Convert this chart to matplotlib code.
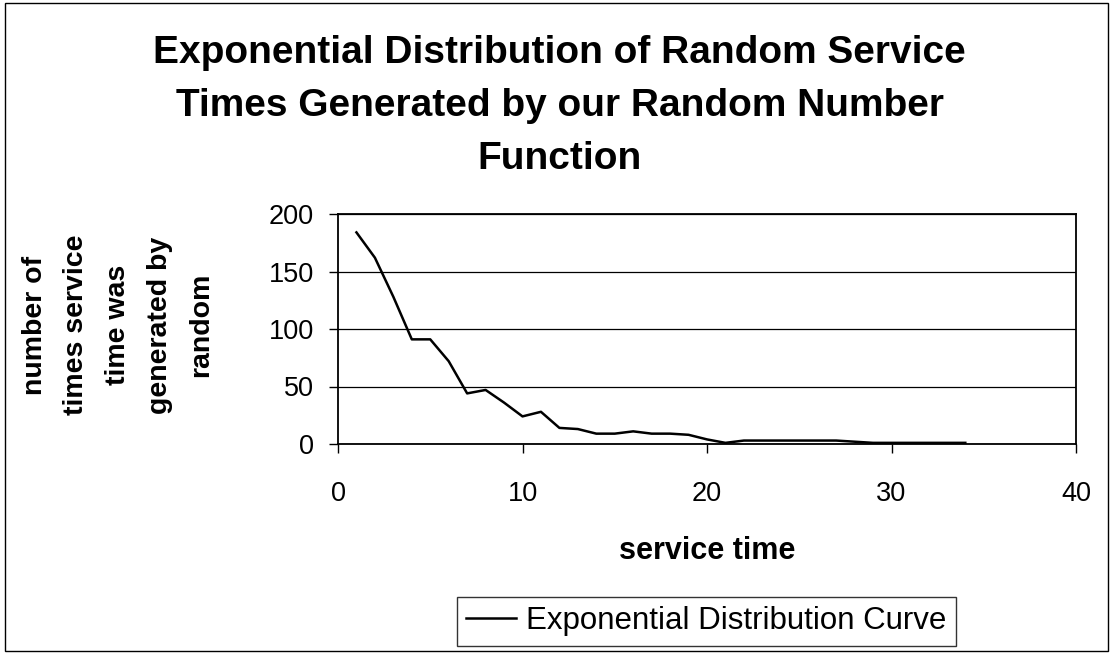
import matplotlib
matplotlib.use("Agg")
import matplotlib.pyplot as plt
from matplotlib.patches import Rectangle

plt.rcParams['font.family'] = ['Liberation Sans', 'DejaVu Sans']

# service time (x) and how many times it was generated (y)
service_time = list(range(1, 35))
counts = [184, 162, 128, 91, 91, 72, 44, 47, 36, 24,
          28, 14, 13, 9, 9, 11, 9, 9, 8, 4,
          1, 3, 3, 3, 3, 3, 3, 2, 1, 1,
          1, 1, 1, 1]

x_ticks = [0, 10, 20, 30, 40]
y_ticks = [0, 50, 100, 150, 200]

title = "Exponential Distribution of Random Service\nTimes Generated by our Random Number\nFunction"
ylabel = "number of\ntimes service\ntime was\ngenerated by\nrandom"
xlabel = "service time"
series_name = "Exponential Distribution Curve"

W, H = 1113, 653
fig = plt.figure(figsize=(W / 100, H / 100), dpi=100)

# outer chart border
fig.patches.append(Rectangle((5 / W, 2 / H), 1103 / W, 648 / H, transform=fig.transFigure,
                             fill=False, edgecolor='black', linewidth=1.0))

ax = fig.add_axes([338 / W, 1 - 444 / H, (1076 - 338) / W, (444 - 214) / H])
line, = ax.plot(service_time, counts, color='black', linewidth=1.8, label=series_name)

ax.set_xlim(0, 40)
ax.set_ylim(0, 200)
ax.set_xticks(x_ticks)
ax.set_yticks(y_ticks)
ax.yaxis.grid(True, color='black', linewidth=0.9)
ax.set_axisbelow(True)
for s in ax.spines.values():
    s.set_color('black')
    s.set_linewidth(1.3)
ax.tick_params(axis='both', direction='out', length=6.5, width=1.0, labelsize=19.5, color='black')
ax.tick_params(axis='x', pad=20)
ax.tick_params(axis='y', pad=11)

fig.text(0.503, 0.946, title, ha='center', va='top', fontsize=28, fontweight='bold',
         linespacing=1.6, multialignment='center')
fig.text(118 / W, 1 - 325 / H, ylabel, rotation=90, ha='center', va='center', fontsize=20.5,
         fontweight='bold', linespacing=1.78, multialignment='center')
fig.text(707 / W, 1 - 551 / H, xlabel, ha='center', va='center', fontsize=22, fontweight='bold')

leg = fig.legend(handles=[line], loc='upper left', bbox_to_anchor=(457 / W, 1 - 597 / H),
                 bbox_transform=fig.transFigure, fontsize=22.5, frameon=True, fancybox=False,
                 handlelength=1.6, handletextpad=0.3, borderpad=0.3, borderaxespad=0)
leg.get_frame().set_edgecolor('black')
leg.get_frame().set_linewidth(1.0)

fig.savefig("out.png", dpi=100)
